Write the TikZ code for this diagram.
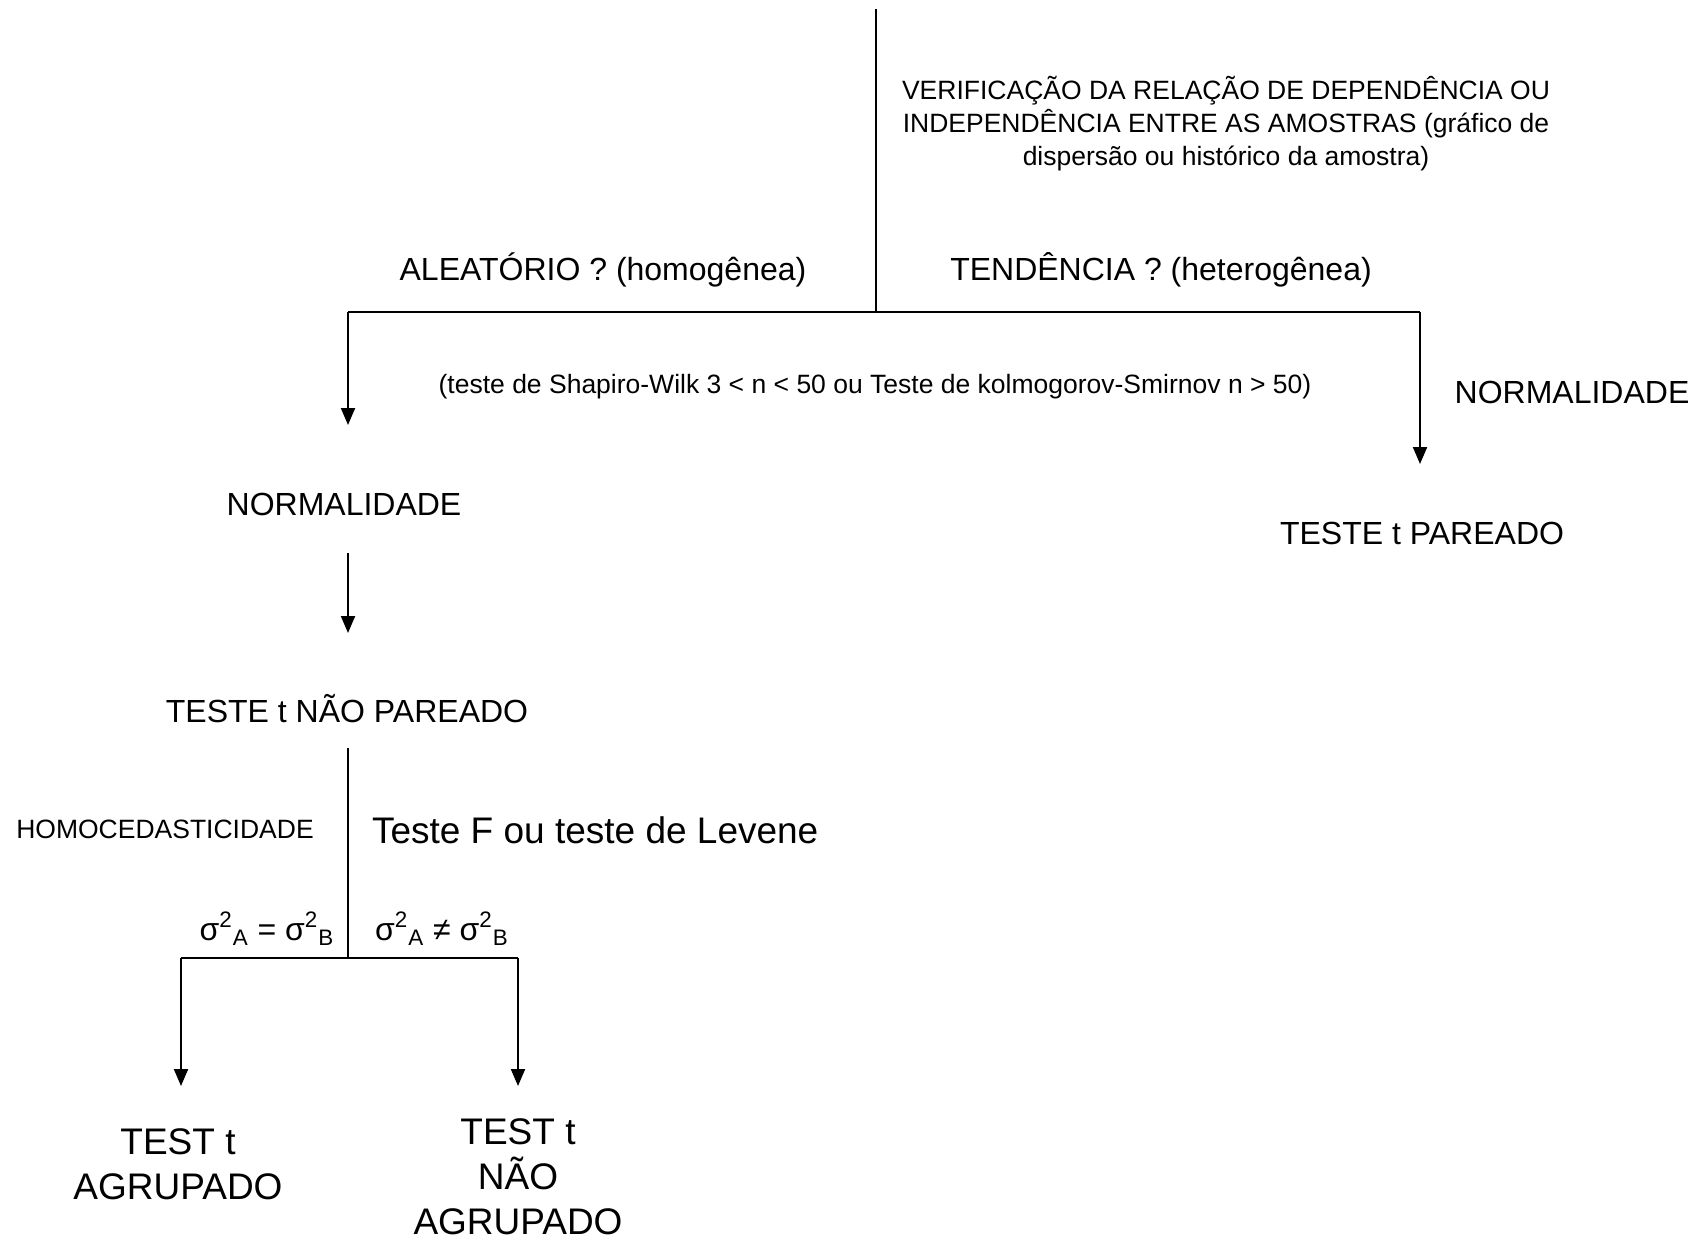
\documentclass[tikz,border=0pt]{standalone}
\usepackage{fontspec}
\setmainfont{Liberation Sans}
\usetikzlibrary{arrows.meta,positioning}

\begin{document}
\begin{tikzpicture}[x=0.5pt,y=-0.5pt,line width=1pt,
  lbl/.style={inner sep=0pt,anchor=base,font=\fontsize{16}{19}\selectfont},
  lblsmall/.style={lbl,font=\fontsize{13.25}{16.5}\selectfont},
  lblbig/.style={lbl,font=\fontsize{18.5}{22.5}\selectfont},
  arr/.style={-{Triangle[length=8.5pt,width=7pt]}}]
\useasboundingbox (0,0) rectangle (1700,1242);
% first split
\coordinate (top) at (876,9);
\coordinate (fork) at (876,312);
\coordinate (forkL) at (348,312);
\coordinate (forkR) at (1420,312);
\coordinate (tipL) at (348,425);
\coordinate (tipR) at (1420,464);
\draw [black] (top) -- (fork);
\draw [black] (forkL) -- (forkR);
\draw [black,arr] (forkL) -- (tipL);
\draw [black,arr] (forkR) -- (tipR);
\node [lblsmall,align=center] (verif) at (1226,165) {VERIFICAÇÃO DA RELAÇÃO DE DEPENDÊNCIA OU\\INDEPENDÊNCIA ENTRE AS AMOSTRAS (gráfico de\\dispersão ou histórico da amostra)};
\node [lbl] (aleat) at (603,280) {ALEATÓRIO ? (homogênea)};
\node [lbl] (tend) at (1161,280) {TENDÊNCIA ? (heterogênea)};
\node [lblsmall] (shapiro) at (875,393) {(teste de Shapiro-Wilk 3 < n < 50 ou Teste de kolmogorov-Smirnov n > 50)};
\node [lbl] (normR) at (1572,403) {NORMALIDADE};
\node [lbl] (normL) at (344,515) {NORMALIDADE};
\node [lbl] (pareado) at (1422,544) {TESTE t PAREADO};
% left branch
\coordinate (n1) at (348,553);
\coordinate (n1tip) at (348,633);
\draw [black,arr] (n1) -- (n1tip);
\node [lbl] (naopar) at (347,722) {TESTE t NÃO PAREADO};
\coordinate (v1) at (348,748);
\coordinate (v2) at (348,958);
\coordinate (v2L) at (181,958);
\coordinate (v2R) at (518,958);
\coordinate (tipA) at (181,1086);
\coordinate (tipB) at (518,1086);
\draw [black] (v1) -- (v2);
\draw [black] (v2L) -- (v2R);
\draw [black,arr] (v2L) -- (tipA);
\draw [black,arr] (v2R) -- (tipB);
\node [lblsmall] (homo) at (165,838) {HOMOCEDASTICIDADE};
\node [lblbig,anchor=base west] (levene) at (371,843) {Teste F ou teste de Levene};
\node [lbl] (igual) at (267,940) {σ\textsuperscript{2}\textsubscript{A} = σ\textsuperscript{2}\textsubscript{B}};
\node [lbl] (difer) at (442,940) {σ\textsuperscript{2}\textsubscript{A} ≠ σ\textsuperscript{2}\textsubscript{B}};
\node [lblbig,align=center] (agrup) at (178,1199) {TEST t\\AGRUPADO};
\node [lblbig,align=center] (naoagrup) at (518,1234) {TEST t\\NÃO\\AGRUPADO};
\end{tikzpicture}
\end{document}
